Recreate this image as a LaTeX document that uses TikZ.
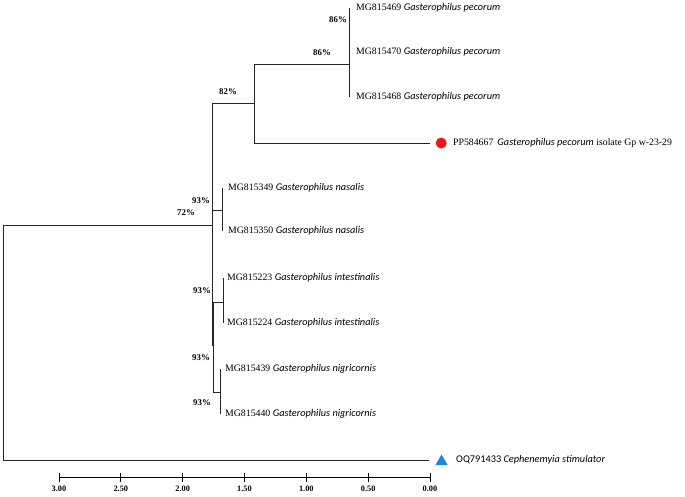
\documentclass[tikz,border=0pt]{standalone}
\usepackage{fontspec}
\setmainfont{Liberation Serif}
\newfontfamily\spfont{Carlito}
\usepackage{xcolor}
\usetikzlibrary{positioning,shapes.geometric}

\definecolor{dotred}{RGB}{240,20,20}
\definecolor{triblue}{RGB}{25,135,225}
\newcommand{\species}[1]{{\spfont\itshape\fontsize{10.3}{12}\selectfont #1}}

\tikzset{
  branch/.style={line width=0.9pt, black!85},
  tip/.style={anchor=west, inner sep=0pt, font=\fontsize{9.8}{11}\selectfont},
  boot/.style={inner sep=0pt, font=\bfseries\fontsize{8.8}{10}\selectfont},
  ticklab/.style={inner sep=0pt, font=\bfseries\fontsize{8.3}{10}\selectfont}
}

\begin{document}
\begin{tikzpicture}[x=1pt,y=-1pt]
    \useasboundingbox (0,0) rectangle (685,496);
    % inner nodes
    \coordinate (root) at (3.5,342);
    \coordinate (n72) at (212,225);
    \coordinate (n82) at (254,103);
    \coordinate (n86b) at (349,64);
    \coordinate (n86a) at (349,30);
    \coordinate (nas) at (222,210);
    \coordinate (n93c) at (213,345);
    \coordinate (int) at (223,302);
    \coordinate (nig) at (220,392);
    % tips
    \coordinate (t469) at (349,8);
    \coordinate (t470) at (349,52);
    \coordinate (t468) at (349,97);
    \coordinate (tpp) at (430,143);
    \coordinate (t349) at (222,188);
    \coordinate (t350) at (222,231);
    \coordinate (t223) at (223,278);
    \coordinate (t224) at (223,323);
    \coordinate (t439) at (220,369);
    \coordinate (t440) at (220,414);
    \coordinate (toq) at (429,460);

    % branches
    \draw[branch] (root) |- (n72);
    \draw[branch] (root) |- (toq);
    \draw[branch] (n72) |- (n82);
    \draw[branch] (n72) |- (nas);
    \draw[branch] (n72) |- (n93c);
    \draw[branch] (n82) |- (n86b);
    \draw[branch] (n82) |- (tpp);
    \draw[branch] (n86b) -- (n86a);
    \draw[branch] (n86b) -- (t468);
    \draw[branch] (n86a) -- (t469);
    \draw[branch] (n86a) -- (t470);
    \draw[branch] (nas) -- (t349);
    \draw[branch] (nas) -- (t350);
    \draw[branch] (n93c) |- (int);
    \draw[branch] (n93c) |- (nig);
    \draw[branch] (int) -- (t223);
    \draw[branch] (int) -- (t224);
    \draw[branch] (nig) -- (t439);
    \draw[branch] (nig) -- (t440);

    % support values
    \node[boot] (b86a) at (338,20) {86\%};
    \node[boot] (b86b) at (322,53) {86\%};
    \node[boot] (b82) at (228,92) {82\%};
    \node[boot] (b72) at (186,213) {72\%};
    \node[boot] (b93n) at (201,201) {93\%};
    \node[boot] (b93i) at (202,291) {93\%};
    \node[boot] (b93c) at (201,358) {93\%};
    \node[boot] (b93g) at (202,403) {93\%};

    % tip labels
    \node[tip, right=7pt of t469] (l469) {MG815469 \species{Gasterophilus pecorum}};
    \node[tip, right=7pt of t470] (l470) {MG815470 \species{Gasterophilus pecorum}};
    \node[tip, right=7pt of t468] (l468) {MG815468 \species{Gasterophilus pecorum}};
    \node[tip, right=6pt of t349] (l349) {MG815349 \species{Gasterophilus nasalis}};
    \node[tip, right=6pt of t350] (l350) {MG815350 \species{Gasterophilus nasalis}};
    \node[tip, right=4pt of t223] (l223) {MG815223 \species{Gasterophilus intestinalis}};
    \node[tip, right=4pt of t224] (l224) {MG815224 \species{Gasterophilus intestinalis}};
    \node[tip, right=5pt of t439] (l439) {MG815439 \species{Gasterophilus nigricornis}};
    \node[tip, right=5pt of t440] (l440) {MG815440 \species{Gasterophilus nigricornis}};

    % marked taxa
    \node[circle, fill=dotred, inner sep=0pt, minimum size=11pt, right=5.5pt of tpp] (dotpp) {};
    \node[tip, right=6pt of dotpp] (lpp) {PP584667\, \species{Gasterophilus pecorum} isolate Gp w-23-29};
    \node[regular polygon, regular polygon sides=3, fill=triblue, inner sep=0pt, minimum size=14pt] (trioq) at (441.5,461.5) {};
    \node[tip, font=\spfont\fontsize{10.3}{12}\selectfont] (loq) at (456,460) {OQ791433 {\itshape Cephenemyia stimulator}};

    % scale
    \draw[line width=0.9pt] (59,477.5) coordinate (s0) -- (430,477.5) coordinate (s1);
    \foreach \v [count=\i from 0] in {3.00,2.50,2.00,1.50,1.00,0.50,0.00}{
        \draw[line width=0.9pt] (59+61.83*\i,473) -- (59+61.83*\i,482);
        \node[ticklab] (tk\i) at (59+61.83*\i,488.5) {\v};
    }
\end{tikzpicture}
\end{document}
